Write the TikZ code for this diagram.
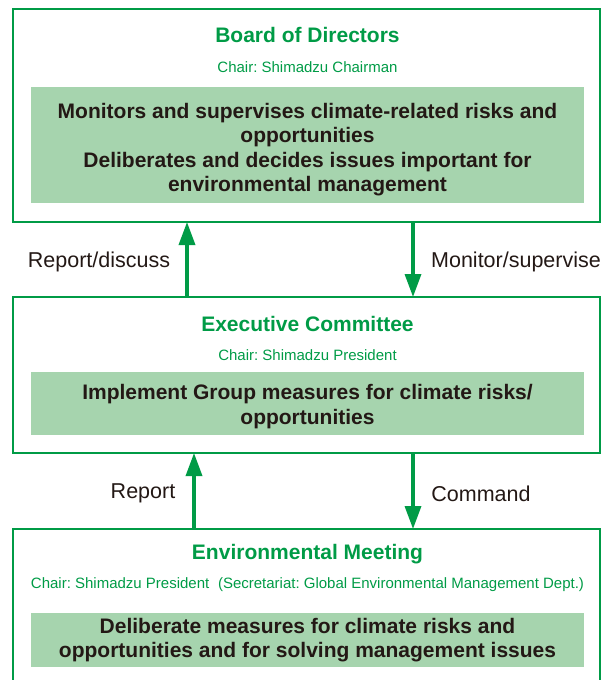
\documentclass[tikz,border=0pt]{standalone}
\usepackage{fontspec}
\setmainfont{Liberation Sans}
\frenchspacing
\usetikzlibrary{arrows.meta}
\definecolor{ShimGreen}{RGB}{0,155,70}
\definecolor{TaskFill}{RGB}{166,212,174}
\definecolor{InkDark}{RGB}{35,24,21}

\begin{document}
\begin{tikzpicture}[x=1pt, y=-1pt, every node/.style={align=center, inner sep=0pt}]
\tikzset{
  bodybox/.style={draw=ShimGreen, line width=2.4pt, outer sep=0pt, minimum width=587pt},
  titletext/.style={text=ShimGreen, font=\fontsize{21}{24}\selectfont\bfseries},
  chairtext/.style={text=ShimGreen, font=\fontsize{15}{17}\selectfont},
  taskbox/.style={fill=TaskFill, minimum width=553pt},
  tasktext/.style={text=InkDark, font=\fontsize{21}{24.3}\selectfont\bfseries},
  flowlabel/.style={text=InkDark, font=\fontsize{21.5}{24}\selectfont},
  arr/.style={-{Triangle[width=16pt,length=23pt]}, line width=3.4pt, ShimGreen}
}
  \useasboundingbox (0,0) rectangle (608,680);
  \clip (0,0) rectangle (608,680);
  \node[bodybox, minimum height=213pt] (board) at (306.5,115.5) {};
  \node[bodybox, minimum height=156pt] (exec) at (306.5,375) {};
  \node[bodybox, minimum height=200pt] (envm) at (306.5,629) {};

  \node[titletext] (boardtitle) at (307.5,35) {Board of Directors};
  \node[chairtext] (boardchair) at (307.5,67) {Chair: Shimadzu Chairman};
  \node[taskbox, minimum height=116pt] (boardtask) at (307.5,145) {};
  \node[tasktext] (boardtasktext) at (307.5,149.5) {Monitors and supervises climate-related risks and\\opportunities\\Deliberates and decides issues important for\\environmental management};

  \node[titletext] (exectitle) at (307.5,324) {Executive Committee};
  \node[chairtext] (execchair) at (307.5,355) {Chair: Shimadzu President};
  \node[taskbox, minimum height=63pt] (exectask) at (307.5,403.5) {};
  \node[tasktext] (exectasktext) at (307.5,406.5) {Implement Group measures for climate risks/\\opportunities};

  \node[titletext] (envmtitle) at (307.5,554) {Environmental Meeting};
  \node[chairtext] (envmchair) at (307.5,585) {Chair: Shimadzu President\hspace{0.3em} (Secretariat: Global Environmental Management Dept.)};
  \node[taskbox, minimum height=54pt] (envmtask) at (307.5,640) {};
  \node[tasktext] (envmtasktext) at (307.5,640) {Deliberate measures for climate risks and\\opportunities and for solving management issues};

  \draw[arr] ([xshift=174pt]exec.north west) -- ([xshift=174pt]board.south west);
  \draw[arr] ([xshift=400pt]board.south west) -- ([xshift=400pt]exec.north west);
  \draw[arr] ([xshift=181pt]envm.north west) -- ([xshift=181pt]exec.south west);
  \draw[arr] ([xshift=400pt]exec.south west) -- ([xshift=400pt]envm.north west);

  \node[flowlabel] (reportup) at (99,262) {Report/discuss};
  \node[flowlabel] (monitordown) at (516,262) {Monitor/supervise};
  \node[flowlabel] (reportlow) at (143,493) {Report};
  \node[flowlabel] (commanddown) at (481,494) {Command};
\end{tikzpicture}
\end{document}
